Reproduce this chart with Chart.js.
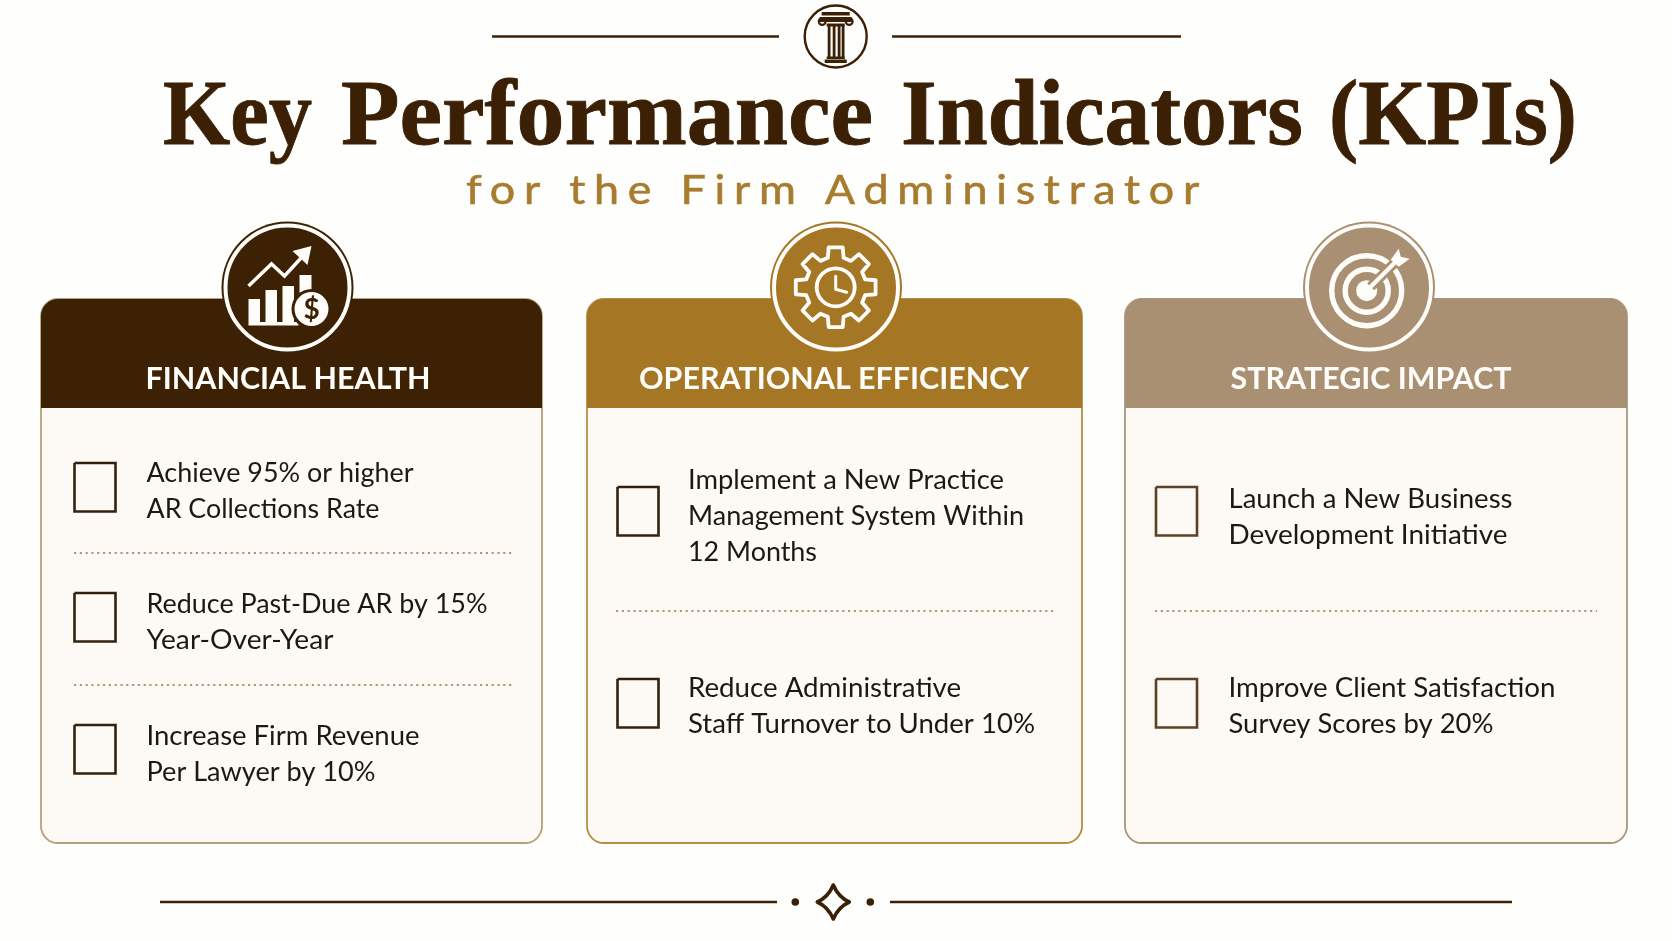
<!DOCTYPE html>
<html>
<head>
<meta charset="utf-8">
<title>Key Performance Indicators (KPIs)</title>
<script src="https://cdn.jsdelivr.net/npm/chart.js@4"></script>
<style>
  html, body { margin: 0; padding: 0; background: #fefefc; overflow: hidden; }
  canvas { display: block; }
</style>
</head>
<body>
<canvas id="kpiBoard" width="1672" height="941"></canvas>
<script>
const titleWords = ['Key', 'Performance', 'Indicators', '(KPIs)'];
const chartSubtitle = 'for the Firm Administrator';
const categories = ['FINANCIAL HEALTH', 'OPERATIONAL EFFICIENCY', 'STRATEGIC IMPACT'];
const financialKpis = [
    ['Achieve 95% or higher', 'AR Collections Rate'],
    ['Reduce Past-Due AR by 15%', 'Year-Over-Year'],
    ['Increase Firm Revenue', 'Per Lawyer by 10%']
];
const operationalKpis = [
    ['Implement a New Practice', 'Management System Within', '12 Months'],
    ['Reduce Administrative', 'Staff Turnover to Under 10%']
];
const strategicKpis = [
    ['Launch a New Business', 'Development Initiative'],
    ['Improve Client Satisfaction', 'Survey Scores by 20%']
];
const kpiGroups = [financialKpis, operationalKpis, strategicKpis];

// layout of the board, in picture pixels (the scales below run 0-1672 and 0-941)
const BROWN = '#3b2005', TEXT = '#1c1813';
const titleBoxes = [[163, 149], [341, 532], [901, 402], [1329, 248]];
const cards = [
    { left: 41, right: 542, color: '#3c2104', border: '#b5a07c', badge: 287.5, labelWidth: 285, label: 288,
      boxLeft: 74.5, textLeft: 146.5, boxTops: [463, 593, 725], baselines: [[482, 518], [613, 649], [745, 781]],
      lineWidths: [[267, 233], [341, 187], [273, 229]],
      dividers: [553, 685], divLeft: 74, divRight: 513, boxColor: '#33210f' },
    { left: 587, right: 1082, color: '#a57724', border: '#b58d45', badge: 836, labelWidth: 390, label: 834,
      boxLeft: 617.5, textLeft: 688, boxTops: [487, 679], baselines: [[489, 525, 561], [697, 733]],
      lineWidths: [[316, 336, 129], [273, 347]],
      dividers: [611], divLeft: 616, divRight: 1054, boxColor: '#33210f' },
    { left: 1125, right: 1627, color: '#aa9072', border: '#a8977f', badge: 1369, labelWidth: 281, label: 1371,
      boxLeft: 1156, textLeft: 1228.5, boxTops: [487, 679], baselines: [[508, 544], [697, 733]],
      lineWidths: [[284, 279], [327, 265]],
      dividers: [611], divLeft: 1155, divRight: 1597, boxColor: '#5b4224' }
];
const cardTop = 299, headerBottom = 408, cardBottom = 843, cardRadius = 17;
const badgeY = 287.5, badgeR = 66, boxW = 41, boxH = 48.5;

function lineSet(points, color, width, dash) {
    return {
        data: points.map(function (p) { return { x: p[0], y: p[1] }; }),
        showLine: true, pointRadius: 0, borderColor: color, borderWidth: width,
        borderDash: dash || [], tension: 0, fill: false
    };
}

// rules, dividers and check boxes go through the chart's own scales
const datasets = [
    lineSet([[492, 36.5], [779, 36.5]], BROWN, 2.4),
    lineSet([[892, 36.5], [1181, 36.5]], BROWN, 2.4),
    lineSet([[160, 902], [777, 902]], BROWN, 2.4),
    lineSet([[890, 902], [1512, 902]], BROWN, 2.4)
];
cards.forEach(function (c) {
    c.dividers.forEach(function (y) {
        datasets.push(lineSet([[c.divLeft, y], [c.divRight, y]], '#a99a7b', 2.2, [2.2, 3.6]));
    });
    c.boxTops.forEach(function (t) {
        const l = c.boxLeft, r = l + boxW, b = t + boxH;
        datasets.push(lineSet([[l, t], [r, t], [r, b], [l, b], [l, t]], c.boxColor, 2.6));
    });
});

function drawText(ctx, str, x, y, font, color, opts) {
    opts = opts || {};
    ctx.save();
    ctx.font = font;
    ctx.fillStyle = color;
    ctx.textBaseline = 'alphabetic';
    ctx.letterSpacing = (opts.spacing || 0) + 'px';
    const w = ctx.measureText(str).width;
    const sx = opts.width ? opts.width / w : 1;
    ctx.translate(x, y);
    ctx.scale(sx, 1);
    ctx.textAlign = 'left';
    const left = opts.center ? -w / 2 : 0;
    ctx.fillText(str, left, 0);
    if (opts.heavy) {
        ctx.strokeStyle = color;
        ctx.lineWidth = opts.heavy;
        ctx.lineJoin = 'round';
        ctx.strokeText(str, left, 0);
    }
    ctx.restore();
}

function drawPillar(ctx, cx, cy) {
    ctx.save();
    ctx.strokeStyle = BROWN;
    ctx.fillStyle = BROWN;
    ctx.lineWidth = 2.4;
    ctx.beginPath();
    ctx.arc(cx, cy, 31, 0, Math.PI * 2);
    ctx.stroke();
    ctx.fillRect(cx - 14, cy - 24.5, 28, 3.5);
    ctx.fillRect(cx - 16, cy - 19.5, 32, 5);
    ctx.lineWidth = 2.2;
    [-1, 1].forEach(function (s) {
        ctx.beginPath();
        ctx.arc(cx + s * 13.5, cy - 15, 3.4, 0, Math.PI * 2);
        ctx.stroke();
    });
    ctx.fillRect(cx - 9, cy - 13, 18, 3);
    [-8, -3, 2, 6].forEach(function (dx) {
        ctx.fillRect(cx + dx, cy - 11, 2.8, 33);
    });
    ctx.fillRect(cx - 9, cy + 20, 18, 2.5);
    ctx.fillRect(cx - 11, cy + 23, 22, 3.5);
    ctx.restore();
}

function drawBadgeBase(ctx, cx, color) {
    ctx.save();
    ctx.fillStyle = color;
    ctx.beginPath();
    ctx.arc(cx, badgeY, badgeR, 0, Math.PI * 2);
    ctx.fill();
    ctx.strokeStyle = '#fffdf9';
    ctx.lineWidth = 4;
    ctx.beginPath();
    ctx.arc(cx, badgeY, badgeR - 4, 0, Math.PI * 2);
    ctx.stroke();
    ctx.restore();
}

function drawGrowthIcon(ctx, cx, cy, color) {
    const white = '#fffdf9';
    ctx.save();
    ctx.fillStyle = white;
    ctx.strokeStyle = white;
    [[-39, 23], [-22, 32], [-5, 36], [12, 47]].forEach(function (b, i) {
        ctx.fillRect(cx + b[0], cy + 36 - 1 - b[1], i === 3 ? 12 : 11.5, b[1]);
    });
    ctx.fillRect(cx - 39, cy + 35, 50, 3.5);
    ctx.lineWidth = 3.5;
    ctx.lineJoin = 'miter';
    ctx.beginPath();
    ctx.moveTo(cx - 39, cy - 1);
    ctx.lineTo(cx - 16, cy - 23);
    ctx.lineTo(cx - 3, cy - 11);
    ctx.lineTo(cx + 20, cy - 36);
    ctx.stroke();
    ctx.beginPath();
    ctx.moveTo(cx + 5, cy - 36);
    ctx.lineTo(cx + 24, cy - 41);
    ctx.lineTo(cx + 20, cy - 22);
    ctx.closePath();
    ctx.fill();
    ctx.fillStyle = color;
    ctx.beginPath();
    ctx.arc(cx + 24, cy + 22, 20, 0, Math.PI * 2);
    ctx.fill();
    ctx.fillStyle = white;
    ctx.beginPath();
    ctx.arc(cx + 24, cy + 22, 17, 0, Math.PI * 2);
    ctx.fill();
    ctx.restore();
    drawText(ctx, '$', cx + 24, cy + 32, 'bold 28px Lato', color, { center: true });
}

function drawGearIcon(ctx, cx, cy) {
    ctx.save();
    ctx.strokeStyle = '#fffdf9';
    ctx.lineWidth = 3.8;
    ctx.lineJoin = 'round';
    ctx.lineCap = 'round';
    ctx.beginPath();
    for (let i = 0; i < 8; i++) {
        const a = (i * 45 - 90) * Math.PI / 180;
        const steps = [[-15, 30.5], [-10, 40.5], [10, 40.5], [15, 30.5]];
        steps.forEach(function (s) {
            const t = a + s[0] * Math.PI / 180;
            ctx.lineTo(cx + Math.cos(t) * s[1], cy + Math.sin(t) * s[1]);
        });
    }
    ctx.closePath();
    ctx.stroke();
    ctx.beginPath();
    ctx.arc(cx, cy, 19, 0, Math.PI * 2);
    ctx.stroke();
    ctx.lineWidth = 3;
    ctx.beginPath();
    ctx.moveTo(cx, cy - 11);
    ctx.lineTo(cx, cy + 2);
    ctx.lineTo(cx + 11, cy + 5);
    ctx.stroke();
    ctx.restore();
}

function drawTargetIcon(ctx, cx, cy, color) {
    const white = '#fffdf9';
    ctx.save();
    ctx.strokeStyle = white;
    ctx.lineWidth = 5.4;
    ctx.beginPath();
    ctx.arc(cx, cy, 35, 0, Math.PI * 2);
    ctx.stroke();
    ctx.beginPath();
    ctx.arc(cx, cy, 21.5, 0, Math.PI * 2);
    ctx.stroke();
    ctx.fillStyle = white;
    ctx.beginPath();
    ctx.arc(cx, cy, 10.5, 0, Math.PI * 2);
    ctx.fill();
    // the arrow cuts a gap through the rings
    ctx.strokeStyle = color;
    ctx.lineWidth = 10;
    ctx.beginPath();
    ctx.moveTo(cx + 4, cy - 4);
    ctx.lineTo(cx + 37, cy - 37);
    ctx.stroke();
    ctx.strokeStyle = white;
    ctx.lineWidth = 4.2;
    ctx.beginPath();
    ctx.moveTo(cx, cy);
    ctx.lineTo(cx + 30, cy - 30);
    ctx.stroke();
    ctx.beginPath();
    ctx.moveTo(cx + 24, cy - 31);
    ctx.lineTo(cx + 32, cy - 42);
    ctx.lineTo(cx + 34, cy - 34);
    ctx.lineTo(cx + 43, cy - 32);
    ctx.lineTo(cx + 32, cy - 24);
    ctx.closePath();
    ctx.fill();
    ctx.restore();
}

function drawStar(ctx, cx, cy) {
    ctx.save();
    ctx.strokeStyle = BROWN;
    ctx.lineWidth = 3.6;
    ctx.lineJoin = 'round';
    ctx.beginPath();
    ctx.moveTo(cx, cy - 17);
    ctx.quadraticCurveTo(cx + 5, cy - 5, cx + 16, cy);
    ctx.quadraticCurveTo(cx + 5, cy + 5, cx, cy + 17);
    ctx.quadraticCurveTo(cx - 5, cy + 5, cx - 16, cy);
    ctx.quadraticCurveTo(cx - 5, cy - 5, cx, cy - 17);
    ctx.closePath();
    ctx.stroke();
    ctx.fillStyle = BROWN;
    [-38, 37].forEach(function (dx) {
        ctx.beginPath();
        ctx.arc(cx + dx, cy, 3.8, 0, Math.PI * 2);
        ctx.fill();
    });
    ctx.restore();
}

const boardPlugin = {
    id: 'board',
    beforeDatasetsDraw: function (chart) {
        const ctx = chart.ctx;
        cards.forEach(function (c) {
            ctx.save();
            ctx.beginPath();
            ctx.roundRect(c.left, cardTop, c.right - c.left, cardBottom - cardTop, cardRadius);
            ctx.fillStyle = '#fdfaf5';
            ctx.fill();
            ctx.strokeStyle = c.border;
            ctx.lineWidth = 1.8;
            ctx.stroke();
            ctx.beginPath();
            ctx.roundRect(c.left, cardTop, c.right - c.left, headerBottom - cardTop, [cardRadius, cardRadius, 0, 0]);
            ctx.fillStyle = c.color;
            ctx.fill();
            ctx.restore();
        });
    },
    afterDatasetsDraw: function (chart) {
        const ctx = chart.ctx;
        drawPillar(ctx, 835.7, 36.5);
        titleWords.forEach(function (word, i) {
            drawText(ctx, word, titleBoxes[i][0], 144, 'bold 93px "Liberation Serif"', BROWN, { width: titleBoxes[i][1], heavy: 0.9 });
        });
        drawText(ctx, chartSubtitle, 466, 204, '41px Lato', '#a87b2e', { spacing: 8, width: 742, heavy: 0.6 });

        cards.forEach(function (c, i) {
            drawBadgeBase(ctx, c.badge, c.color);
            drawText(ctx, categories[i], c.label - c.labelWidth / 2, 389, 'bold 30px Lato', '#fffdf9', { width: c.labelWidth });
            kpiGroups[i].forEach(function (lines, k) {
                lines.forEach(function (str, n) {
                    drawText(ctx, str, c.textLeft, c.baselines[k][n], '27px Lato', TEXT, { width: c.lineWidths[k][n] });
                });
            });
        });
        drawGrowthIcon(ctx, 287.5, 287, cards[0].color);
        drawGearIcon(ctx, 835.7, 287.3);
        drawTargetIcon(ctx, 1366.7, 290.7, cards[2].color);
        drawStar(ctx, 833.3, 902);
    }
};

new Chart(document.getElementById('kpiBoard'), {
    type: 'scatter',
    data: { datasets: datasets },
    options: {
        responsive: false,
        animation: false,
        devicePixelRatio: 1,
        layout: { padding: 0 },
        clip: false,
        plugins: { legend: { display: false }, tooltip: { enabled: false }, title: { display: false } },
        scales: {
            x: { type: 'linear', display: false, min: 0, max: 1672 },
            y: { type: 'linear', display: false, min: 0, max: 941, reverse: true }
        }
    },
    plugins: [boardPlugin]
});
</script>
</body>
</html>
